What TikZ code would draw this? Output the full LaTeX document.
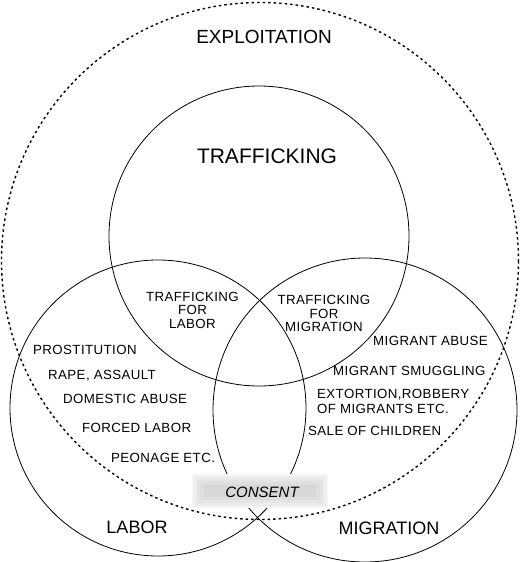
\documentclass[tikz,border=0pt]{standalone}
\usepackage{fontspec}
\setmainfont{Liberation Sans}
\newfontfamily\spaced[LetterSpace=3]{Liberation Sans}
\begin{document}
\begin{tikzpicture}[x=1pt,y=-1pt,
  ring/.style={line width=0.8pt},
  outer/.style={line width=1.4pt,dash pattern=on 2.5pt off 3pt},
  big/.style={font=\fontsize{19}{22}\selectfont,inner sep=0pt},
  mid/.style={font=\fontsize{18}{21}\selectfont,inner sep=0pt},
  small/.style={font=\spaced\fontsize{13.3}{13.5}\selectfont,inner sep=0pt,anchor=west},
  inter/.style={font=\spaced\fontsize{13.3}{13.5}\selectfont,inner sep=0pt,align=center}]
\useasboundingbox (0,0) rectangle (521,562);
% circles
\draw[outer] (260,261) circle (258.5);
\draw[ring] (259,236) circle (150);
\draw[ring] (158,408) circle (148);
\draw[ring] (365,410) circle (152);
% consent box (soft grey)
\fill[gray!8] (192,474) rectangle (328,508);
\fill[gray!14] (194,476) rectangle (326,506);
\fill[gray!20] (197,479) rectangle (323,503);
\fill[gray!26] (200,482) rectangle (320,500);
\fill[gray!31] (204,485) rectangle (316,497);
\node[font=\fontsize{15}{17}\selectfont\itshape,inner sep=0pt] (consent) at (262,492) {CONSENT};
% labels
\node[big] (exploit) at (264,37) {EXPLOITATION};
\node[font=\fontsize{21}{24}\selectfont,inner sep=0pt] (traff) at (267,156) {TRAFFICKING};
\node[mid] (labor) at (137,527) {LABOR};
\node[mid] (migr) at (389,528) {MIGRATION};
\node[inter] (tfl) at (192.5,310) {TRAFFICKING\\[0pt]FOR\\[0pt]LABOR};
\node[inter] (tfm) at (324,313.5) {TRAFFICKING\\[0pt]FOR\\[0pt]MIGRATION};
\node[small] (l1) at (33,350) {PROSTITUTION};
\node[small] (l2) at (48,376) {RAPE, ASSAULT};
\node[small] (l3) at (63,399) {DOMESTIC ABUSE};
\node[small] (l4) at (82,428) {FORCED LABOR};
\node[small] (l5) at (111,458) {PEONAGE ETC.};
\node[small] (m1) at (373,341) {MIGRANT ABUSE};
\node[small] (m2) at (333,371) {MIGRANT SMUGGLING};
\node[small] (m3) at (317,395) {EXTORTION,ROBBERY};
\node[small] (m4) at (317,408.5) {OF MIGRANTS ETC.};
\node[small] (m5) at (308,431) {SALE OF CHILDREN};
\end{tikzpicture}
\end{document}
